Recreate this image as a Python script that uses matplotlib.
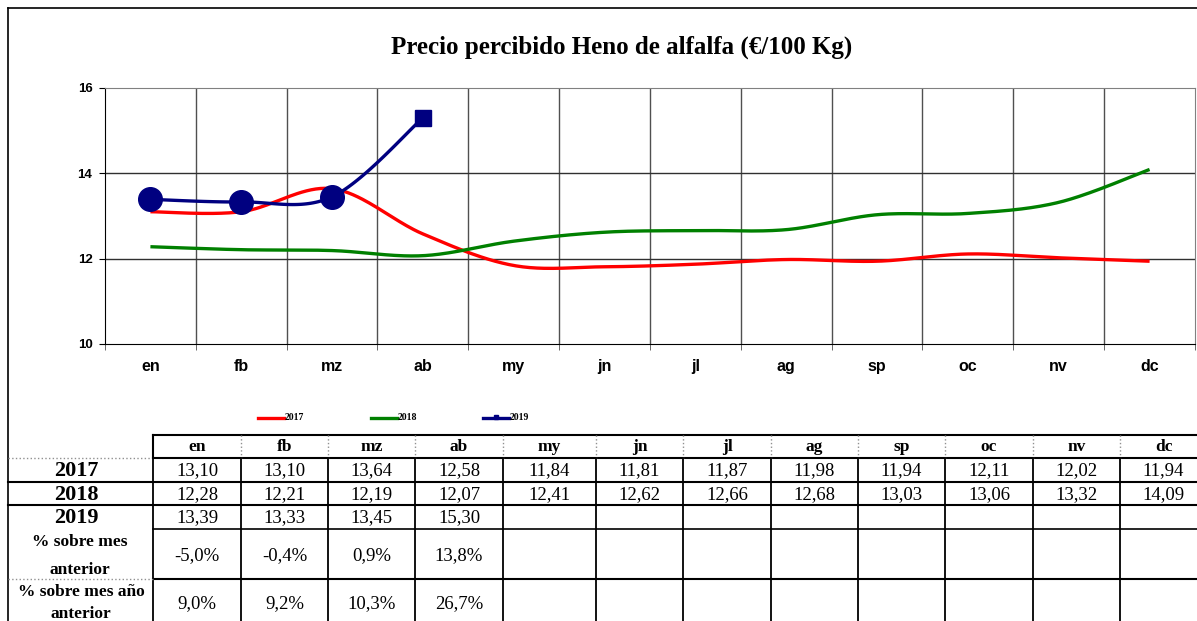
import numpy as np
import matplotlib
matplotlib.use("Agg")
import matplotlib.pyplot as plt

months = ['en', 'fb', 'mz', 'ab', 'my', 'jn', 'jl', 'ag', 'sp', 'oc', 'nv', 'dc']
p2017 = [13.10, 13.10, 13.64, 12.58, 11.84, 11.81, 11.87, 11.98, 11.94, 12.11, 12.02, 11.94]
p2018 = [12.28, 12.21, 12.19, 12.07, 12.41, 12.62, 12.66, 12.68, 13.03, 13.06, 13.32, 14.09]
p2019 = [13.39, 13.33, 13.45, 15.30]
var_mes = ['-5,0%', '-0,4%', '0,9%', '13,8%']
var_anio = ['9,0%', '9,2%', '10,3%', '26,7%']
years = ['2017', '2018', '2019']

RED, GREEN, NAVY = '#FF0000', '#008000', '#000080'
W, H = 1197, 621


def smooth(y, n=40):
    # excel-style smoothed line (bezier through points, 1/6 tangents)
    p = np.column_stack([np.arange(len(y)), y]).astype(float)
    out = []
    t = np.linspace(0, 1, n)[:, None]
    for i in range(len(p) - 1):
        p0, p1, p2 = p[max(i - 1, 0)], p[i], p[i + 1]
        p3 = p[min(i + 2, len(p) - 1)]
        b1 = p1 + (p2 - p0) / 6
        b2 = p2 - (p3 - p1) / 6
        seg = (1 - t)**3 * p1 + 3 * (1 - t)**2 * t * b1 + 3 * (1 - t) * t**2 * b2 + t**3 * p2
        out.append(seg if i == 0 else seg[1:])
    s = np.vstack(out)
    return s[:, 0], s[:, 1]


def fmt(v):
    return f"{v:.2f}".replace('.', ',')


fig = plt.figure(figsize=(W / 100, H / 100), dpi=100)

# overlay in pixel coords for frame, legend and table
ov = fig.add_axes([0, 0, 1, 1])
ov.set_xlim(0, W)
ov.set_ylim(H, 0)
ov.axis('off')

ov.plot([8, 8], [8, H], color='black', lw=1.2)
ov.plot([8, W], [8, 8], color='black', lw=1.2)

ov.text(622, 47, 'Precio percibido Heno de alfalfa (€/100 Kg)', ha='center', va='center',
        fontsize=18, fontweight='bold', family='Liberation Serif')

# chart
ax = fig.add_axes([105 / W, 1 - 344 / H, 1090 / W, 256 / H])
x = np.arange(len(months))
for vals, col in [(p2017, RED), (p2018, GREEN), (p2019, NAVY)]:
    sx, sy = smooth(vals)
    ax.plot(sx, sy, color=col, lw=2.4, solid_capstyle='butt', zorder=3)
ax.plot(x[:3], p2019[:3], 'o', color=NAVY, ms=17, zorder=4)
ax.plot(x[3], p2019[3], 's', color=NAVY, ms=11, zorder=4)

ax.set_xlim(-0.5, 11.5)
ax.set_ylim(10, 16)
ax.set_yticks([10, 12, 14, 16])
ax.set_xticks(x)
ax.set_xticklabels(months)
ax.set_xticks(np.arange(-0.5, 12, 1), minor=True)
for xv in np.arange(0.5, 11.5, 1):
    ax.axvline(xv, color='#505050', lw=1, zorder=1)
for yv in [12, 14]:
    ax.axhline(yv, color='#303030', lw=1, zorder=1)
ax.tick_params(axis='x', which='major', length=0, pad=11)
ax.tick_params(axis='x', which='minor', length=4, color='#505050')
ax.tick_params(axis='y', length=4, pad=5)
for lab in ax.get_xticklabels():
    lab.set_fontsize(11.5)
    lab.set_fontweight('bold')
    lab.set_family('Liberation Sans')
for lab in ax.get_yticklabels():
    lab.set_fontsize(9.5)
    lab.set_fontweight('bold')
    lab.set_family('Liberation Sans')
for side in ['top', 'right']:
    ax.spines[side].set_color('#808080')
ax.spines['left'].set_color('black')
ax.spines['bottom'].set_color('black')

# legend
for x0, col, name, mk in [(258, RED, '2017', None), (371, GREEN, '2018', None), (483, NAVY, '2019', 's')]:
    ov.plot([x0, x0 + 26], [418, 418], color=col, lw=2.4)
    if mk:
        ov.plot([x0 + 13], [417], mk, color=col, ms=3)
    ov.text(x0 + 27, 418, name, ha='left', va='center', fontsize=7,
            fontweight='bold', family='Liberation Serif')

# table
edges = [153, 241, 328, 415, 503, 596, 683, 771, 858, 945, 1033, 1120, 1207]
centers = [(a + b) / 2 for a, b in zip(edges[:-1], edges[1:])]
rows = [435, 458, 482, 505, 529, 579, 640]
tf = dict(family='Liberation Serif', ha='center', va='center')

ov.plot([153, W], [435, 435], color='black', lw=1.5)
ov.plot([153, W], [458, 458], color='black', lw=1.5)
ov.plot([8, 153], [458, 458], color='#909090', lw=1, ls=':')
for e in edges[1:-1]:
    ov.plot([e, e], [435, 458], color='#909090', lw=1, ls=':')
for e in edges[:-1]:
    ov.plot([e, e], [458, H], color='black', lw=1.3)
ov.plot([153, 153], [435, 458], color='black', lw=1.5)
for yv in [482, 505]:
    ov.plot([8, W], [yv, yv], color='black', lw=1.5)
ov.plot([153, W], [529, 529], color='black', lw=1.2)
ov.plot([153, W], [579, 579], color='black', lw=1.5)
ov.plot([8, 153], [579, 579], color='#909090', lw=1, ls=':')

for c, m in zip(centers, months):
    ov.text(c, 447, m, fontsize=12.5, fontweight='bold', **tf)

for r, (name, vals) in enumerate(zip(years, [p2017, p2018, p2019])):
    yc = (rows[r + 1] + rows[r + 2]) / 2 + 1
    ov.text(76, yc, name, fontsize=16, fontweight='bold', **tf)
    for c, v in zip(centers, vals):
        ov.text(c, yc, fmt(v), fontsize=13.5, **tf)

ov.text(80, 542, '% sobre mes', fontsize=12.5, fontweight='bold', **tf)
ov.text(80, 570, 'anterior', fontsize=12.5, fontweight='bold', **tf)
ov.text(81, 592, '% sobre mes año', fontsize=12.5, fontweight='bold', **tf)
ov.text(81, 614, 'anterior', fontsize=12.5, fontweight='bold', **tf)
for c, a, b in zip(centers, var_mes, var_anio):
    ov.text(c, 556, a, fontsize=13.5, **tf)
    ov.text(c, 604, b, fontsize=13.5, **tf)

fig.savefig('out.png', dpi=100)
